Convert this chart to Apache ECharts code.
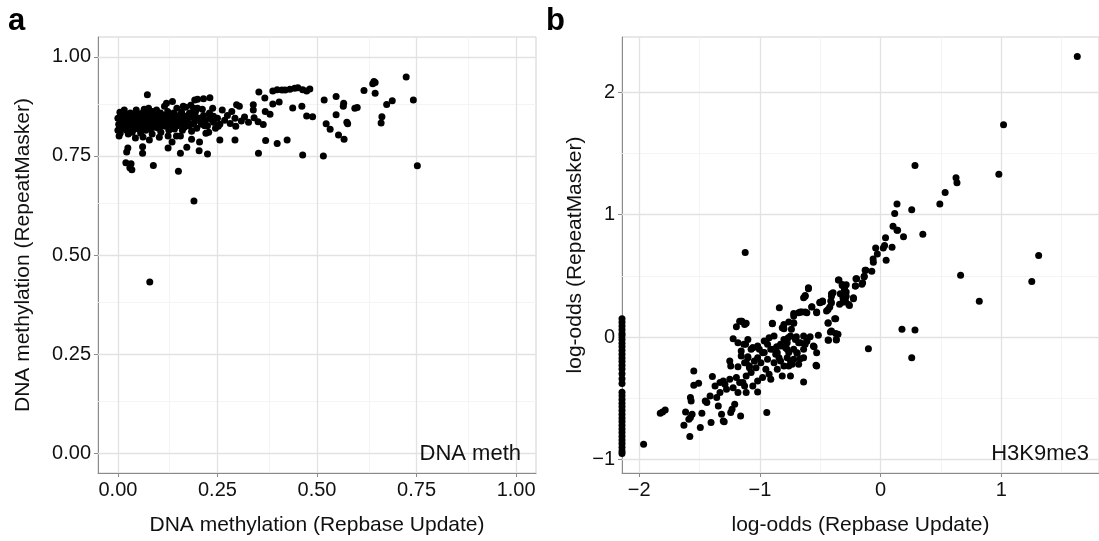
<!DOCTYPE html>
<html>
<head>
<meta charset="utf-8">
<script src="https://cdn.jsdelivr.net/npm/echarts@6/dist/echarts.min.js"></script>
<style>
html,body{margin:0;padding:0;background:#fff;}
#chart{width:1099px;height:541px;}
</style>
</head>
<body>
<div id="chart"></div>
<script>
// ---------------- DATA ----------------
// Panel a: DNA methylation (Repbase Update) vs (RepeatMasker)
const dnaMethPoints = [
  [0.074,0.904],[0.08,0.432],[0.191,0.636],
  [0.025,0.77],[0.022,0.76],[0.02,0.733],[0.033,0.73],[0.035,0.715],[0.03,0.72],
  [0.062,0.773],[0.062,0.757],[0.089,0.726],[0.152,0.711],
  [0.126,0.77],[0.157,0.757],[0.173,0.772],[0.185,0.792],[0.204,0.763],[0.225,0.755],[0.205,0.785],[0.221,0.807],
  [0.193,0.891],[0.2,0.893],[0.215,0.894],[0.231,0.897],
  [0.122,0.883],[0.137,0.887],[0.164,0.875],[0.19,0.87],[0.2,0.87],
  [0.262,0.866],[0.298,0.879],[0.305,0.875],[0.34,0.879],[0.354,0.911],[0.369,0.896],
  [0.389,0.914],[0.40,0.917],[0.412,0.916],[0.42,0.916],[0.432,0.918],[0.444,0.921],[0.452,0.922],[0.464,0.917],[0.482,0.919],[0.474,0.914],
  [0.389,0.881],[0.405,0.886],[0.439,0.871],[0.462,0.875],[0.474,0.851],[0.489,0.849],
  [0.24,0.85],[0.256,0.83],[0.252,0.825],[0.282,0.832],[0.294,0.845],[0.296,0.825],[0.318,0.848],
  [0.34,0.866],[0.342,0.846],[0.352,0.836],[0.365,0.829],[0.37,0.862],[0.382,0.855],
  [0.256,0.79],[0.294,0.79],[0.371,0.789],[0.4,0.781],[0.425,0.79],[0.353,0.757],[0.464,0.752],
  [0.516,0.75],[0.518,0.891],[0.548,0.9],[0.567,0.883],[0.566,0.875],[0.548,0.854],[0.523,0.831],[0.533,0.817],
  [0.554,0.803],[0.568,0.792],[0.575,0.835],[0.577,0.831],[0.595,0.87],[0.601,0.872],[0.618,0.915],
  [0.64,0.932],[0.643,0.938],[0.646,0.935],[0.646,0.908],[0.663,0.849],[0.661,0.833],[0.675,0.88],[0.689,0.889],
  [0.724,0.949],[0.742,0.891],[0.752,0.725],
  [0.0,0.845],[0.002,0.83],[0.0,0.815],[0.003,0.80],[0.005,0.86],[0.008,0.838],[0.004,0.823],[0.01,0.852],[0.006,0.808],
  [0.015,0.84],[0.018,0.826],[0.02,0.855],[0.022,0.815],[0.025,0.835],[0.028,0.847],[0.03,0.82],[0.016,0.866],[0.026,0.805],
  [0.035,0.842],[0.038,0.83],[0.04,0.856],[0.042,0.818],[0.045,0.838],[0.048,0.85],[0.05,0.826],[0.036,0.81],[0.046,0.866],[0.044,0.795],
  [0.055,0.836],[0.058,0.848],[0.06,0.822],[0.062,0.858],[0.065,0.832],[0.068,0.842],[0.07,0.815],[0.057,0.808],[0.066,0.868],[0.063,0.798],
  [0.075,0.84],[0.078,0.828],[0.08,0.852],[0.082,0.818],[0.085,0.836],[0.088,0.862],[0.09,0.826],[0.077,0.87],[0.086,0.805],[0.079,0.79],
  [0.095,0.845],[0.098,0.832],[0.1,0.856],[0.102,0.82],[0.105,0.84],[0.108,0.81],[0.11,0.85],[0.097,0.866],[0.104,0.797],[0.106,0.828],
  [0.115,0.838],[0.118,0.852],[0.12,0.825],[0.122,0.845],[0.125,0.862],[0.128,0.815],[0.13,0.835],[0.117,0.875],[0.126,0.8],
  [0.135,0.848],[0.138,0.83],[0.14,0.858],[0.142,0.818],[0.145,0.84],[0.148,0.87],[0.15,0.826],[0.136,0.785],[0.147,0.8],
  [0.155,0.845],[0.158,0.832],[0.16,0.86],[0.162,0.815],[0.165,0.85],[0.168,0.835],[0.17,0.873],[0.157,0.8],
  [0.175,0.842],[0.178,0.826],[0.18,0.858],[0.185,0.812],[0.188,0.848],[0.192,0.835],[0.195,0.862],[0.198,0.82],[0.183,0.878],
  [0.205,0.845],[0.21,0.83],[0.215,0.852],[0.22,0.84],[0.225,0.826],[0.23,0.858],[0.235,0.842],[0.24,0.835],[0.212,0.868],[0.228,0.81],[0.245,0.82],[0.238,0.87],
  [0.012,0.832],[0.032,0.838],[0.052,0.844],[0.072,0.834],[0.092,0.84],[0.112,0.836],[0.024,0.848],[0.044,0.828],
  [0.064,0.85],[0.084,0.846],[0.103,0.845],[0.123,0.832],[0.074,0.858],[0.054,0.818],[0.034,0.852],
  [0.008,0.845],[0.014,0.82],[0.019,0.836],[0.027,0.826],[0.031,0.858],[0.039,0.844],[0.047,0.834],[0.053,0.856],
  [0.059,0.83],[0.067,0.822],[0.071,0.848],[0.076,0.826],[0.083,0.83],[0.087,0.85],[0.093,0.822],[0.099,0.842],
  [0.107,0.858],[0.113,0.826],[0.119,0.84],[0.127,0.848],[0.133,0.822],[0.139,0.844],[0.146,0.832],[0.153,0.852],
  [0.161,0.84],[0.167,0.822],[0.176,0.852],[0.186,0.83],[0.196,0.848],[0.208,0.836],[0.218,0.826],[0.232,0.848],
  [0.25,0.845],[0.268,0.84],[0.275,0.852],[0.286,0.862],[0.31,0.838],[0.328,0.835]
];

// Panel b: log-odds H3K9me3 (finite points)
const h3k9Points = [
  [1.63,2.29],[1.019,1.733],[0.285,1.40],[0.625,1.30],[0.633,1.26],[0.98,1.33],[0.535,1.18],[0.491,1.087],
  [0.136,1.087],[0.258,1.04],[0.117,1.008],[0.136,0.872],[0.19,0.818],[0.35,0.84],[0.103,0.905],[0.141,0.872],
  [1.31,0.666],[0.663,0.505],[1.253,0.454],[0.818,0.293],[0.177,0.063],[0.285,0.057],[0.258,-0.168],[-0.101,-0.095],
  [0.041,0.81],[-0.041,0.728],[0.022,0.728],[0.033,0.747],[0.095,0.734],[-0.027,0.679],[-0.062,0.638],[-0.06,0.611],
  [0.046,0.628],[-0.073,0.538],[-0.128,0.546],[-0.136,0.497],[-0.204,0.476],[-0.155,0.432],[-0.209,0.416],
  [-0.35,0.465],[-0.318,0.429],[-0.285,0.427],[-0.299,0.389],[-0.334,0.353],[-0.312,0.285],[-0.264,0.266],[-0.225,0.312],
  [-0.285,0.334],[-0.394,0.361],[-0.407,0.334],[-0.413,0.294],[-0.435,0.226],[-0.503,0.285],[-0.481,0.294],
  [-0.598,0.402],[-0.625,0.334],[-0.638,0.321],[-0.57,0.245],[-0.53,0.204],[-0.666,0.204],[-0.625,0.204],[-0.72,0.171],
  [-0.839,0.239],[-0.897,0.112],[-0.801,0.068],[-0.761,0.122],[-0.72,0.112],[-0.435,0.112],[-0.38,0.15],[-0.416,0.041],
  [-0.353,0.022],[-0.435,-0.024],[-0.367,-0.024],[-1.122,0.69],[-1.155,0.13],[-1.114,0.112],[-1.195,0.084],[-1.149,0.13],
  [-1.222,-0.014],[-1.119,-0.059],[-1.155,-0.114],[-1.06,-0.087],[-1.1,-0.16],[-1.114,-0.209],[-1.046,-0.196],[-1.087,-0.25],
  [-1.25,-0.196],[-1.242,-0.236],[-1.182,-0.242],[-1.548,-0.277],[-1.548,-0.394],[-1.508,-0.378],[-1.394,-0.323],
  [-1.576,-0.494],[-1.57,-0.522],[-1.372,-0.399],[-1.331,-0.372],[-1.304,-0.358],[-1.29,-0.385],[-1.25,-0.345],
  [-1.195,-0.331],[-1.277,-0.426],[-1.222,-0.413],[-1.168,-0.372],[-1.127,-0.399],[-1.182,-0.453],[-1.114,-0.453],
  [-1.331,-0.453],[-1.413,-0.481],[-1.358,-0.494],[-1.453,-0.522],[-1.44,-0.535],[-1.345,-0.562],[-1.318,-0.63],
  [-1.304,-0.685],[-1.209,-0.549],[-1.231,-0.589],[-1.242,-0.617],[-1.16,-0.644],[-1.296,-0.692],[-1.405,-0.698],
  [-1.494,-0.739],[-1.481,-0.622],[-1.562,-0.63],[-1.576,-0.657],[-1.589,-0.671],[-1.616,-0.611],[-1.63,-0.72],
  [-1.581,-0.812],[-1.807,-0.611],[-1.785,-0.595],[-1.826,-0.622],[-1.964,-0.875],[-1.019,-0.448],[-0.943,-0.617],
  [-1.133,-0.059],[-1.059,-0.087],[-1.155,-0.155],[-1.1,-0.168],[-1.127,-0.209],[-1.087,-0.236],[-1.073,-0.29],
  [-1.114,-0.318],[-1.141,-0.372],[-1.005,-0.1],[-0.964,-0.127],[-0.937,-0.182],[-0.992,-0.209],[-1.032,-0.25],
  [-0.951,-0.263],[-0.924,-0.304],[-0.978,-0.331],[-1.019,-0.358],[-1.059,-0.399],[-0.888,-0.1],[-0.861,-0.079],
  [-0.829,-0.059],[-0.788,-0.087],[-0.761,-0.127],[-0.774,-0.168],[-0.747,-0.195],[-0.733,-0.222],[-0.761,-0.236],
  [-0.829,-0.195],[-0.842,-0.168],[-0.815,-0.318],[-0.747,-0.318],[-0.91,-0.345],[-0.638,-0.367],[-0.666,-0.177],
  [-0.535,-0.231],[-0.551,-0.079],[-0.516,0.014],[-0.584,0.003],[-0.625,-0.059],[-0.679,-0.046],[-0.698,0.003],
  [-0.739,0.063],[-0.766,-0.005],[-0.72,0.117],[-0.815,0.076],[-0.801,0.103],[-0.897,0.109],[-0.72,0.193],
  [-0.679,0.199],[-0.652,0.204],[-0.611,0.199],[-0.57,0.248],[-0.53,0.199],[-0.598,0.394],[-0.625,0.34],
  [-0.503,0.28],[-0.481,0.288],[-0.448,0.212],[-0.421,0.245],[-0.407,0.28],[-0.407,0.354],[-0.435,0.117],
  [-0.407,0.049],[-0.372,0.03],[-0.432,-0.027],[-0.367,-0.019],[-0.372,0.15],[-0.345,0.465],[-0.318,0.421],
  [-0.299,0.394],[-0.285,0.367],[-0.312,0.321],[-0.291,0.294],[-0.258,0.258],[-0.225,0.321],[-0.209,0.416],
  [-0.198,0.476],[-0.149,0.443],[-0.136,0.492],[-0.122,0.546],[-0.34,0.267],[-1.168,0.13],[-1.127,0.103],
  [-1.019,-0.168],[-0.883,-0.209],[-0.856,-0.263],[-0.801,-0.236],[-0.692,-0.133],[-0.72,-0.1],[-0.638,0.008],
  [-0.611,-0.033],[-0.774,-0.046],[-0.937,-0.059],[-0.869,-0.141],
  [-1.182,-0.046],[-1.1,-0.019],[-1.073,-0.1],[-1.019,-0.073],[-0.964,-0.033],[-0.924,-0.005],[-0.883,0.008],
  [-0.978,-0.128],[-0.91,-0.1],[-0.856,-0.128],[-0.829,-0.073],[-0.774,-0.1],[-0.801,-0.019],[-0.747,0.008],
  [-0.706,-0.019],[-0.666,-0.046],[-0.611,-0.033],[-0.693,-0.128],[-0.638,-0.1],[-0.557,-0.073],[-0.53,-0.128],
  [-0.72,-0.182],[-0.638,-0.168],[-0.53,-0.236],[-0.679,-0.223]
];
// Panel b: points whose Repbase log-odds is -Inf (drawn at the left edge of the panel)
const h3k9LeftEdgeY = [0.15,0.12,0.09,0.06,0.03,0.01,-0.02,-0.05,-0.08,-0.11,-0.14,-0.17,-0.2,-0.23,-0.26,-0.3,
  -0.34,-0.38,-0.45,-0.48,-0.51,-0.54,-0.57,-0.6,-0.63,-0.66,-0.69,-0.72,-0.75,-0.78,-0.81,-0.84,-0.87,-0.9,-0.93,-0.95];

// Axis ticks / ranges
const methRange = [-0.05, 1.05];
const methTicks = [0, 0.25, 0.5, 0.75, 1];
const methMinor = [0.125, 0.375, 0.625, 0.875];
const logXRange = [-2.143, 1.81];
const logYRange = [-1.11, 2.45];
const logXTicks = [-2, -1, 0, 1];
const logXMinor = [-1.5, -0.5, 0.5, 1.5];
const logYTicks = [-1, 0, 1, 2];
const logYMinor = [-0.5, 0.5, 1.5];

// ---------------- CHART ----------------
const FONT = '"Liberation Sans", Arial, Helvetica, sans-serif';
const TXT = '#111111';
const AXIS_GREY = '#8a8a8a';
const chart = echarts.init(document.getElementById('chart'), null, {renderer: 'canvas'});

function fmtMinus(v) { return String(v).replace('-', '\u2212'); }

function axisCommon(ticks, formatter) {
  return {
    type: 'value',
    axisLine: {show: true, onZero: false, lineStyle: {color: AXIS_GREY, width: 1}},
    axisTick: {show: true, customValues: ticks, length: 4, inside: false, lineStyle: {color: AXIS_GREY, width: 1}},
    axisLabel: {show: true, customValues: ticks, formatter: formatter, color: TXT, fontSize: 20, fontFamily: FONT, margin: 7},
    splitLine: {show: false},
    minorTick: {show: false},
    nameLocation: 'middle',
    nameTextStyle: {color: TXT, fontSize: 21, fontFamily: FONT}
  };
}

function gridLines(xMajor, xMinor, yMajor, yMinor, xi, yi) {
  const major = {type: 'scatter', xAxisIndex: xi, yAxisIndex: yi, data: [], z: 1, silent: true,
    markLine: {silent: true, symbol: ['none', 'none'], label: {show: false}, animation: false,
      lineStyle: {color: '#e2e2e2', width: 1.3, type: 'solid'},
      data: xMajor.map(v => ({xAxis: v})).concat(yMajor.map(v => ({yAxis: v})))}};
  const minor = {type: 'scatter', xAxisIndex: xi, yAxisIndex: yi, data: [], z: 1, silent: true,
    markLine: {silent: true, symbol: ['none', 'none'], label: {show: false}, animation: false,
      lineStyle: {color: '#f1f1f1', width: 0.8, type: 'solid'},
      data: xMinor.map(v => ({xAxis: v})).concat(yMinor.map(v => ({yAxis: v})))}};
  return [minor, major];
}

const option = {
  animation: false,
  backgroundColor: '#ffffff',
  grid: [
    {left: 98, top: 37, width: 438, height: 437, show: true, borderColor: '#d0d0d0', borderWidth: 1, backgroundColor: '#fff'},
    {left: 622, top: 37, right: -8, height: 437, show: true, borderColor: '#d0d0d0', borderWidth: 1, backgroundColor: '#fff'}
  ],
  xAxis: [
    Object.assign(axisCommon(methTicks, v => v.toFixed(2)), {
      gridIndex: 0, min: methRange[0], max: methRange[1],
      name: 'DNA methylation (Repbase Update)', nameGap: 42
    }),
    Object.assign(axisCommon(logXTicks, fmtMinus), {
      gridIndex: 1, min: logXRange[0], max: logXRange[1],
      name: 'log-odds (Repbase Update)', nameGap: 42
    })
  ],
  yAxis: [
    Object.assign(axisCommon(methTicks, v => v.toFixed(2)), {
      gridIndex: 0, min: methRange[0], max: methRange[1],
      name: 'DNA methylation (RepeatMasker)', nameGap: 64
    }),
    Object.assign(axisCommon(logYTicks, fmtMinus), {
      gridIndex: 1, min: logYRange[0], max: logYRange[1],
      name: 'log-odds (RepeatMasker)', nameGap: 36
    })
  ],
  series: [
    ...gridLines(methTicks, methMinor, methTicks, methMinor, 0, 0),
    ...gridLines(logXTicks, logXMinor, logYTicks, logYMinor, 1, 1),
    {
      type: 'scatter', xAxisIndex: 0, yAxisIndex: 0, z: 5, symbolSize: 7,
      itemStyle: {color: '#000000', opacity: 1}, data: dnaMethPoints
    },
    {
      type: 'scatter', xAxisIndex: 1, yAxisIndex: 1, z: 5, symbolSize: 7,
      itemStyle: {color: '#000000', opacity: 1}, data: h3k9Points
    },
    {
      type: 'scatter', xAxisIndex: 1, yAxisIndex: 1, z: 5, symbolSize: 7, clip: false,
      itemStyle: {color: '#000000', opacity: 1},
      data: h3k9LeftEdgeY.map(y => [logXRange[0], y])
    }
  ],
  graphic: [
    {type: 'text', z: 100, left: 8, top: 6, style: {text: 'a', font: 'bold 31px ' + FONT, fill: '#000'}},
    {type: 'text', z: 100, left: 546, top: 6, style: {text: 'b', font: 'bold 31px ' + FONT, fill: '#000'}},
    {type: 'text', z: 100, right: 1099 - 521, top: 443, style: {text: 'DNA meth', font: '22px ' + FONT, fill: TXT}},
    {type: 'text', z: 100, right: 1099 - 1089, top: 443, style: {text: 'H3K9me3', font: '22px ' + FONT, fill: TXT}}
  ]
};
chart.setOption(option);
</script>
</body>
</html>
